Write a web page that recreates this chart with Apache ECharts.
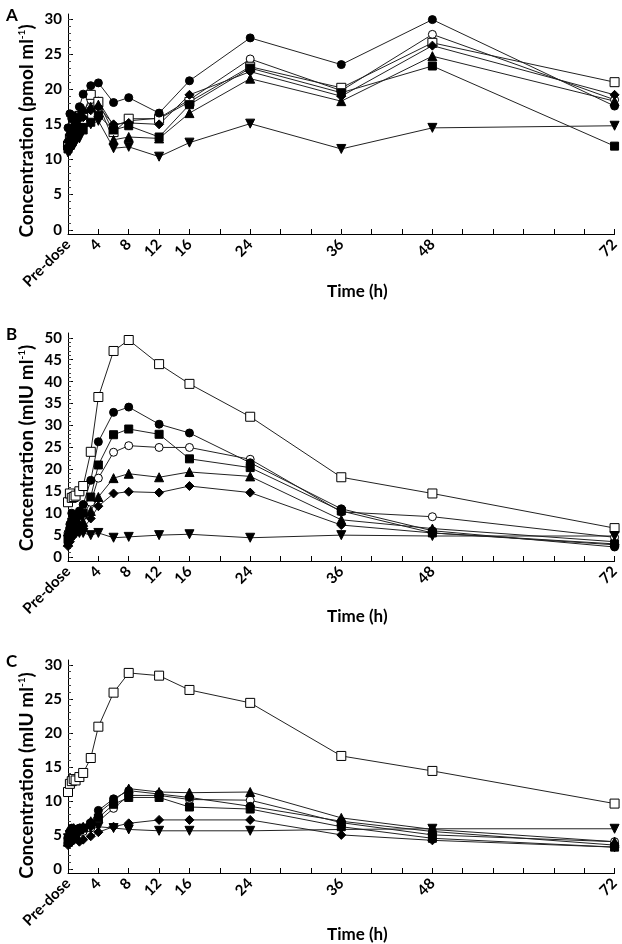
<!DOCTYPE html>
<html>
<head>
<meta charset="utf-8">
<script src="https://cdn.jsdelivr.net/npm/echarts@6/dist/echarts.min.js"></script>
<style>html,body{margin:0;padding:0;background:#fff}#chart{width:622px;height:944px}</style>
</head>
<body>
<div id="chart"></div>
<script>
// Sampling times (h); 0 = Pre-dose
const times = [0, 0.25, 0.5, 0.75, 1, 1.5, 2, 3, 4, 6, 8, 12, 16, 24, 36, 48, 72];
const xTickLabels = [0, 4, 8, 12, 16, 24, 36, 48, 72];

// Panel A (pmol/ml)
const A_circleFilled = [14.5, 16.5, 15.8, 16.2, 15.5, 17.5, 19.3, 20.5, 20.9, 18.1, 18.8, 16.6, 21.2, 27.3, 23.5, 29.9, 17.6];
const A_circleOpen   = [12.5, 13.5, 14.0, 14.5, 15.0, 16.0, 16.8, 18.5, 18.3, 14.8, 15.5, 15.9, 18.5, 24.3, 19.8, 27.8, 18.5];
const A_squareOpen   = [12.0, 13.0, 13.8, 15.0, 15.5, 16.2, 16.5, 19.2, 18.2, 13.9, 15.8, 15.8, 18.2, 23.2, 20.2, 26.6, 21.0];
const A_squareFilled = [11.5, 12.0, 12.5, 13.0, 13.5, 14.5, 14.2, 15.3, 16.3, 14.2, 14.8, 13.2, 17.8, 23.0, 19.5, 23.3, 11.9];
const A_triangleUp   = [13.0, 14.0, 14.5, 15.0, 15.5, 16.5, 17.2, 17.5, 17.8, 12.8, 13.2, 13.0, 16.6, 21.5, 18.3, 24.7, 18.3];
const A_triangleDown = [11.0, 11.2, 11.8, 12.0, 12.5, 13.0, 14.5, 15.0, 15.5, 11.6, 11.8, 10.4, 12.4, 15.1, 11.5, 14.5, 14.8];
const A_diamond      = [11.8, 12.5, 13.2, 14.0, 14.8, 15.8, 16.0, 17.0, 17.5, 15.0, 15.2, 15.0, 19.2, 22.5, 19.0, 26.2, 19.2];

// Panel B (mIU/ml)
const B_circleFilled = [5.0, 7.5, 10.0, 9.5, 9.0, 10.5, 12.0, 17.5, 26.3, 33.0, 34.2, 30.3, 28.3, 21.5, 11.0, 6.0, 2.3];
const B_circleOpen   = [5.5, 6.5, 7.0, 8.0, 8.5, 9.0, 9.5, 12.5, 18.0, 23.9, 25.4, 25.0, 25.0, 22.3, 10.3, 9.2, 4.5];
const B_squareOpen   = [12.5, 14.5, 13.5, 13.7, 14.0, 15.0, 16.2, 24.0, 36.5, 47.0, 49.5, 44.0, 39.5, 32.0, 18.2, 14.5, 6.6];
const B_squareFilled = [4.0, 6.0, 8.0, 9.5, 8.5, 9.5, 10.0, 13.7, 21.0, 27.9, 29.2, 28.0, 22.4, 20.4, 10.5, 5.5, 3.0];
const B_triangleUp   = [3.5, 5.0, 6.0, 6.5, 7.0, 7.5, 8.0, 10.5, 13.7, 18.0, 19.0, 18.2, 19.4, 18.4, 8.5, 6.5, 3.5];
const B_triangleDown = [4.0, 5.0, 5.5, 5.0, 5.5, 5.5, 5.5, 5.0, 5.5, 4.4, 4.6, 5.0, 5.2, 4.4, 5.0, 4.8, 4.8];
const B_diamond      = [2.5, 3.5, 4.5, 5.0, 5.5, 6.0, 6.5, 8.8, 11.6, 14.5, 14.9, 14.7, 16.2, 14.7, 7.3, 5.5, 2.8];

// Panel C (mIU/ml)
const C_circleFilled = [4.5, 5.5, 6.0, 5.8, 5.5, 6.0, 6.0, 6.8, 8.6, 10.3, 11.5, 11.0, 10.5, 9.2, 7.0, 5.5, 3.5];
const C_circleOpen   = [3.8, 4.5, 5.0, 5.2, 5.0, 5.5, 5.5, 6.0, 7.0, 8.9, 10.8, 10.8, 10.2, 10.1, 6.8, 5.0, 4.0];
const C_squareOpen   = [11.3, 12.5, 12.9, 13.2, 13.0, 13.5, 14.1, 16.3, 20.9, 25.9, 28.8, 28.4, 26.3, 24.4, 16.6, 14.4, 9.6];
const C_squareFilled = [4.2, 5.0, 5.5, 5.5, 5.2, 5.8, 6.0, 6.5, 7.5, 9.5, 10.5, 10.5, 9.1, 8.8, 6.2, 4.5, 3.2];
const C_triangleUp   = [4.0, 5.0, 5.5, 6.0, 5.5, 5.8, 6.2, 7.0, 8.2, 10.0, 11.8, 11.3, 11.2, 11.3, 7.5, 5.8, 4.0];
const C_triangleDown = [4.5, 5.0, 5.3, 5.5, 5.0, 5.5, 5.8, 6.0, 6.2, 6.0, 5.8, 5.6, 5.6, 5.6, 5.8, 5.9, 5.9];
const C_diamond      = [3.5, 3.8, 4.0, 4.2, 4.5, 4.0, 4.3, 4.8, 5.4, 6.2, 6.7, 7.2, 7.2, 7.2, 5.0, 4.2, 3.2];

const FONT = 'Lato';
const markers = {
  circleFilled: {symbol: 'circle', size: 8, fill: '#000', rot: 0},
  circleOpen:   {symbol: 'circle', size: 8, fill: '#fff', rot: 0},
  squareOpen:   {symbol: 'rect', size: 9, fill: '#fff', rot: 0},
  squareFilled: {symbol: 'rect', size: 8, fill: '#000', rot: 0},
  triangleUp:   {symbol: 'triangle', size: 9, fill: '#000', rot: 0},
  triangleDown: {symbol: 'triangle', size: 9, fill: '#000', rot: 180},
  diamond:      {symbol: 'diamond', size: 9, fill: '#000', rot: 0}
};

const panels = [
  {letter: 'A', unit: 'pmol', top: 14, height: 220, min: -0.6, max: 30.7, step: 5, lmax: 30, namePad: [0, 14, 0, 0], xGap: 49,
   data: {circleOpen: A_circleOpen, squareOpen: A_squareOpen, squareFilled: A_squareFilled, triangleUp: A_triangleUp, triangleDown: A_triangleDown, diamond: A_diamond, circleFilled: A_circleFilled}},
  {letter: 'B', unit: 'mIU', top: 333, height: 228, min: -0.9, max: 51.1, step: 5, lmax: 50, namePad: [0, 2, 0, 0], xGap: 47,
   data: {circleOpen: B_circleOpen, squareOpen: B_squareOpen, squareFilled: B_squareFilled, triangleUp: B_triangleUp, triangleDown: B_triangleDown, diamond: B_diamond, circleFilled: B_circleFilled}},
  {letter: 'C', unit: 'mIU', top: 660, height: 215, min: -0.6, max: 30.7, step: 5, lmax: 30, namePad: [0, 18, 0, 0], xGap: 53,
   data: {circleOpen: C_circleOpen, squareOpen: C_squareOpen, squareFilled: C_squareFilled, triangleUp: C_triangleUp, triangleDown: C_triangleDown, diamond: C_diamond, circleFilled: C_circleFilled}}
];

function range(a, b, s) { const r = []; for (let v = a; v <= b + 1e-9; v += s) r.push(v); return r; }

const grid = [], xAxis = [], yAxis = [], series = [], title = [];
panels.forEach((p, i) => {
  grid.push({left: 68, width: 547, top: p.top, height: p.height});
  title.push({text: p.letter, left: 1, top: p.top - 12, textStyle: {fontFamily: FONT, fontWeight: 'bold', fontSize: 17, color: '#000'}});
  xAxis.push({
    type: 'value', gridIndex: i, min: 0, max: 72, interval: 4,
    axisLine: {onZero: false, lineStyle: {color: '#000', width: 1}},
    axisTick: {inside: true, length: 5, lineStyle: {color: '#000'}},
    splitLine: {show: false},
    axisLabel: {customValues: xTickLabels, rotate: 45, margin: 8, color: '#000', fontFamily: FONT, fontWeight: 'bold', fontSize: 15,
      formatter: v => v === 0 ? 'Pre-dose' : String(v)},
    name: 'Time (h)', nameLocation: 'middle', nameGap: p.xGap, nameMoveOverlap: false,
    nameTextStyle: {fontFamily: FONT, fontWeight: 'bold', fontSize: 17, color: '#000', padding: [0, 0, 0, 32]}
  });
  const nameRich = '{a|Concentration (' + p.unit + ' ml}{s|-1}{a|)}';
  yAxis.push({
    type: 'value', gridIndex: i, min: p.min, max: p.max,
    axisLine: {onZero: false, lineStyle: {color: '#000', width: 1}},
    axisTick: {inside: true, length: 5, customValues: range(0, p.lmax, p.step), lineStyle: {color: '#000'}},
    axisLabel: {customValues: range(0, p.lmax, p.step), margin: 6, color: '#000', fontFamily: FONT, fontWeight: 'bold', fontSize: 15},
    splitLine: {show: false},
    name: nameRich, nameLocation: 'middle', nameGap: 32, nameMoveOverlap: false,
    nameTextStyle: {color: '#000', padding: p.namePad,
      rich: {a: {fontFamily: FONT, fontWeight: 'bold', fontSize: 19, color: '#000'},
             s: {fontFamily: FONT, fontWeight: 'bold', fontSize: 10, color: '#000', verticalAlign: 'top', padding: [0, 0, 9, 0]}}}
  });
  yAxis.push({
    type: 'value', gridIndex: i, min: p.min, max: p.max, position: 'left',
    axisLine: {show: false},
    axisTick: {inside: true, length: 3, customValues: range(0, p.lmax, 1), lineStyle: {color: '#444'}},
    axisLabel: {show: false},
    splitLine: {show: false}
  });
  Object.keys(p.data).forEach(key => {
    const m = markers[key];
    series.push({
      type: 'line', xAxisIndex: i, yAxisIndex: i * 2,
      data: times.map((t, k) => [t, p.data[key][k]]),
      symbol: m.symbol, symbolSize: m.size, symbolRotate: m.rot, showAllSymbol: true,
      lineStyle: {color: '#222', width: 1},
      itemStyle: {color: m.fill, borderColor: '#000', borderWidth: 1},
      emphasis: {disabled: true}, animation: false, z: 2
    });
  });
});

const chart = echarts.init(document.getElementById('chart'), null, {renderer: 'canvas'});
chart.setOption({backgroundColor: '#fff', animation: false, title, grid, xAxis, yAxis, series});
</script>
</body>
</html>
